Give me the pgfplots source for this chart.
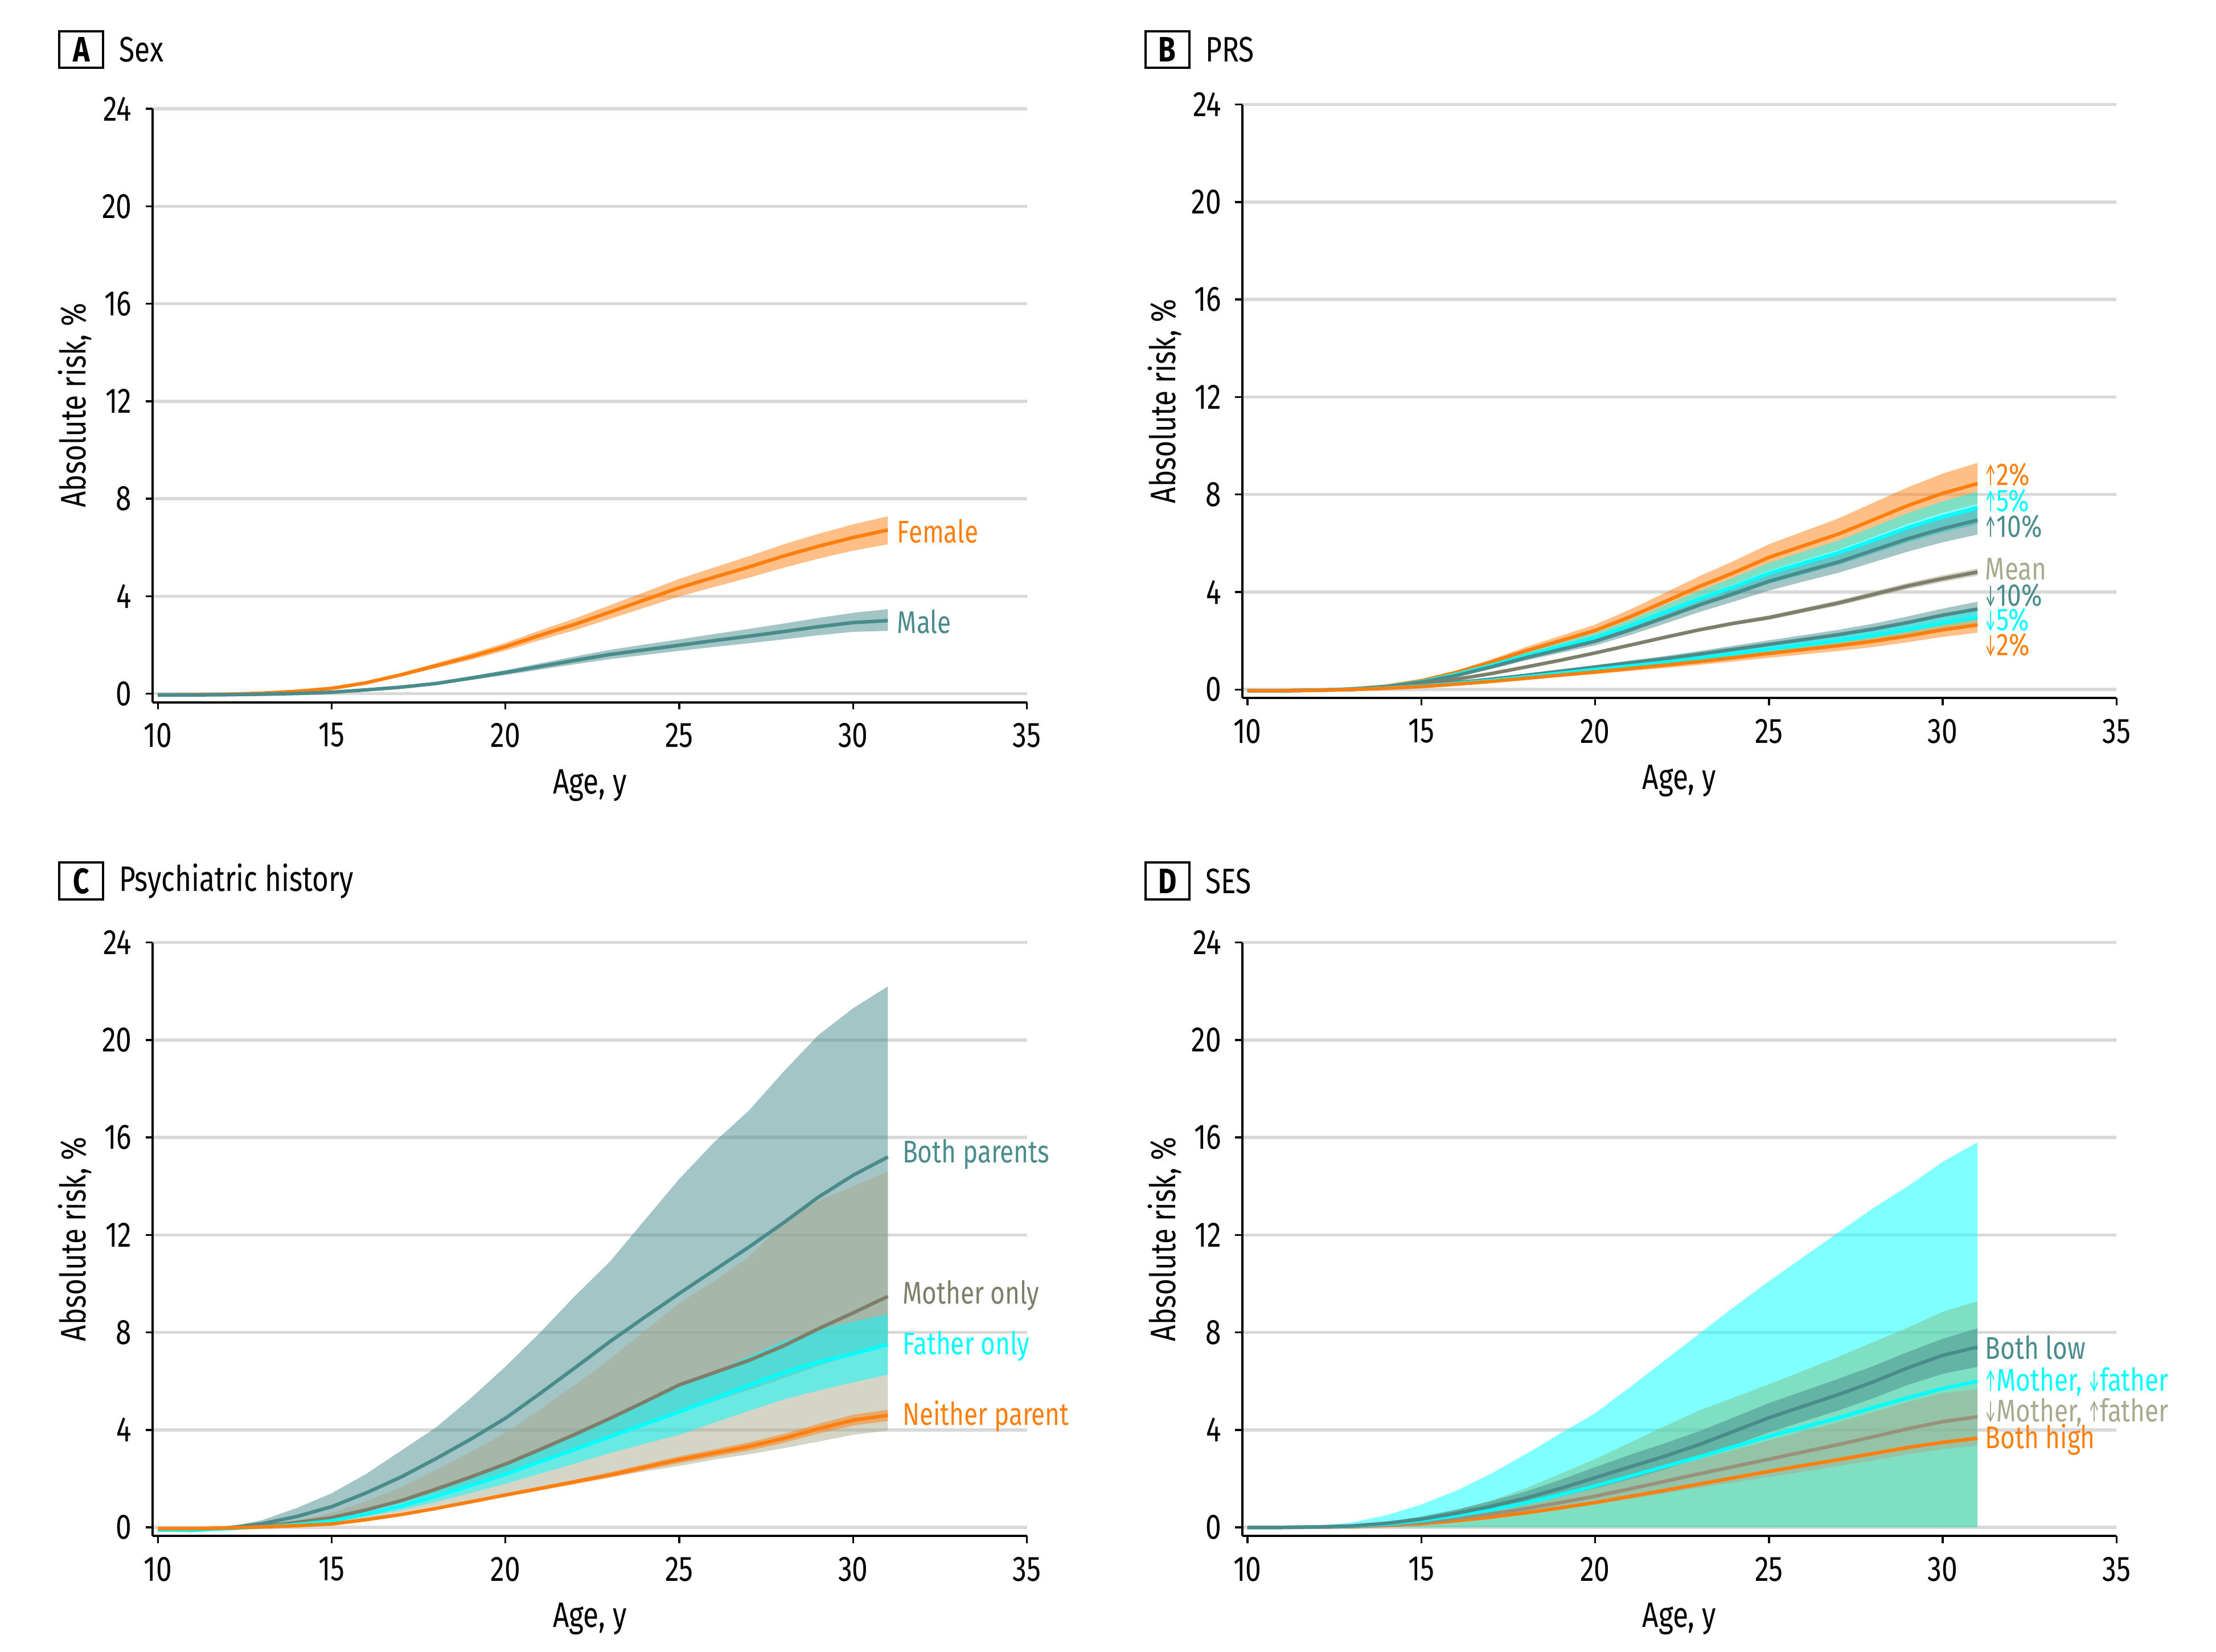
\documentclass[border=0pt]{standalone}
\usepackage{fontspec}
\setmainfont{Fira Sans}[FakeStretch=0.8]
\usepackage{graphicx}
\usepackage{pgfplots}
\usepackage{pgfplotstable}
\pgfplotsset{compat=1.18}
\usepgfplotslibrary{fillbetween}

\newcommand{\ua}{\scalebox{0.5}[1]{↑}}
\newcommand{\da}{\scalebox{0.5}[1]{↓}}

\definecolor{cor}{HTML}{FF7F0E}
\definecolor{cteal}{HTML}{4A8C8C}
\definecolor{ccyan}{HTML}{00FFFF}
\definecolor{ckhaki}{HTML}{A9A98F}
\definecolor{cdkhaki}{HTML}{7E7E6A}
\definecolor{cdline}{HTML}{9A917A}
\definecolor{gridgray}{HTML}{D9D9D9}

% ---- A: sex ----
\pgfplotstableread{
x y lo hi
10 -0.05 -0.06 -0.04
11 -0.04 -0.05 -0.03
12 -0.02 -0.03 -0.01
13 0.02 0.01 0.03
14 0.10 0.08 0.12
15 0.22 0.19 0.25
16 0.45 0.40 0.50
17 0.78 0.71 0.85
18 1.15 1.05 1.25
19 1.52 1.39 1.65
20 1.93 1.77 2.09
21 2.40 2.20 2.60
22 2.85 2.61 3.09
23 3.35 3.07 3.63
24 3.85 3.53 4.17
25 4.35 3.99 4.71
26 4.78 4.38 5.18
27 5.20 4.76 5.64
28 5.65 5.17 6.13
29 6.05 5.54 6.56
30 6.41 5.87 6.95
31 6.72 6.13 7.28
}\female
\pgfplotstableread{
x y lo hi
10 -0.05 -0.06 -0.04
11 -0.05 -0.06 -0.04
12 -0.04 -0.05 -0.03
13 -0.02 -0.03 -0.01
14 0.01 -0.01 0.03
15 0.06 0.04 0.08
16 0.16 0.13 0.19
17 0.27 0.23 0.31
18 0.42 0.36 0.48
19 0.64 0.56 0.72
20 0.87 0.77 0.97
21 1.12 0.99 1.25
22 1.37 1.21 1.53
23 1.61 1.42 1.80
24 1.80 1.59 2.02
25 1.99 1.76 2.23
26 2.18 1.92 2.45
27 2.36 2.07 2.66
28 2.55 2.23 2.88
29 2.75 2.40 3.11
30 2.92 2.54 3.32
31 3.00 2.58 3.47
}\male

% ---- B: PRS ----
\pgfplotstableread{
x y lo hi
10 -0.05 -0.06 -0.04
11 -0.05 -0.06 -0.04
12 -0.03 -0.04 -0.02
13 0.02 0.01 0.03
14 0.14 0.13 0.15
15 0.36 0.32 0.40
16 0.70 0.63 0.77
17 1.12 1.01 1.23
18 1.58 1.42 1.74
19 2.00 1.80 2.20
20 2.42 2.18 2.66
21 2.98 2.68 3.28
22 3.60 3.24 3.96
23 4.23 3.81 4.65
24 4.80 4.32 5.28
25 5.42 4.88 5.96
26 5.90 5.31 6.49
27 6.38 5.74 7.02
28 6.96 6.26 7.66
29 7.55 6.80 8.30
30 8.05 7.25 8.86
31 8.45 7.61 9.30
}\uptwo
\pgfplotstableread{
x y lo hi
10 -0.05 -0.06 -0.04
11 -0.05 -0.06 -0.04
12 -0.03 -0.04 -0.02
13 0.02 0.02 0.02
14 0.12 0.11 0.13
15 0.32 0.29 0.35
16 0.62 0.56 0.68
17 0.99 0.90 1.08
18 1.39 1.26 1.52
19 1.76 1.60 1.92
20 2.13 1.94 2.32
21 2.62 2.38 2.86
22 3.17 2.88 3.46
23 3.72 3.39 4.05
24 4.22 3.84 4.60
25 4.77 4.34 5.20
26 5.19 4.72 5.66
27 5.61 5.11 6.11
28 6.12 5.57 6.67
29 6.64 6.04 7.24
30 7.08 6.44 7.72
31 7.45 6.78 8.12
}\upfive
\pgfplotstableread{
x y lo hi
10 -0.05 -0.06 -0.04
11 -0.05 -0.06 -0.04
12 -0.03 -0.04 -0.02
13 0.02 0.02 0.02
14 0.11 0.10 0.12
15 0.30 0.27 0.33
16 0.57 0.52 0.62
17 0.92 0.84 1.00
18 1.30 1.19 1.41
19 1.64 1.50 1.78
20 1.98 1.81 2.15
21 2.44 2.23 2.65
22 2.95 2.70 3.20
23 3.47 3.18 3.76
24 3.94 3.61 4.27
25 4.44 4.06 4.82
26 4.84 4.43 5.25
27 5.23 4.79 5.67
28 5.71 5.22 6.20
29 6.19 5.66 6.72
30 6.60 6.04 7.16
31 6.95 6.36 7.54
}\upten
\pgfplotstableread{
x y lo hi
10 -0.05 -0.06 -0.04
11 -0.05 -0.06 -0.04
12 -0.03 -0.04 -0.02
13 0.00 0.00 0.01
14 0.08 0.07 0.09
15 0.22 0.21 0.23
16 0.42 0.41 0.43
17 0.65 0.63 0.67
18 0.92 0.89 0.95
19 1.20 1.16 1.24
20 1.50 1.45 1.55
21 1.82 1.76 1.88
22 2.14 2.08 2.20
23 2.45 2.38 2.52
24 2.72 2.64 2.80
25 2.95 2.86 3.04
26 3.25 3.15 3.35
27 3.55 3.44 3.66
28 3.90 3.78 4.02
29 4.25 4.12 4.38
30 4.55 4.41 4.69
31 4.82 4.67 4.97
}\prsmean
\pgfplotstableread{
x y lo hi
10 -0.05 -0.06 -0.04
11 -0.05 -0.06 -0.04
12 -0.03 -0.04 -0.02
13 0.00 0.00 0.01
14 0.07 0.06 0.08
15 0.16 0.15 0.17
16 0.28 0.25 0.31
17 0.42 0.38 0.46
18 0.58 0.53 0.63
19 0.75 0.68 0.82
20 0.92 0.84 1.00
21 1.09 0.99 1.19
22 1.26 1.15 1.37
23 1.45 1.32 1.58
24 1.65 1.50 1.80
25 1.85 1.68 2.02
26 2.05 1.87 2.23
27 2.25 2.05 2.45
28 2.48 2.26 2.70
29 2.75 2.50 3.00
30 3.05 2.78 3.32
31 3.30 3.00 3.60
}\downten
\pgfplotstableread{
x y lo hi
10 -0.05 -0.06 -0.04
11 -0.05 -0.06 -0.04
12 -0.03 -0.04 -0.02
13 0.00 0.00 0.01
14 0.06 0.05 0.07
15 0.14 0.13 0.15
16 0.25 0.23 0.27
17 0.37 0.34 0.40
18 0.52 0.47 0.57
19 0.67 0.61 0.73
20 0.82 0.75 0.89
21 0.97 0.88 1.06
22 1.12 1.02 1.22
23 1.29 1.17 1.41
24 1.47 1.34 1.60
25 1.65 1.50 1.80
26 1.82 1.66 1.98
27 2.00 1.82 2.18
28 2.21 2.01 2.41
29 2.45 2.23 2.67
30 2.72 2.48 2.96
31 2.95 2.68 3.22
}\downfive
\pgfplotstableread{
x y lo hi
10 -0.05 -0.06 -0.04
11 -0.05 -0.06 -0.04
12 -0.03 -0.04 -0.02
13 0.00 0.00 0.01
14 0.05 0.04 0.06
15 0.12 0.11 0.13
16 0.22 0.19 0.25
17 0.33 0.29 0.37
18 0.46 0.40 0.52
19 0.59 0.52 0.66
20 0.72 0.63 0.81
21 0.86 0.76 0.96
22 1.00 0.88 1.12
23 1.15 1.01 1.29
24 1.31 1.15 1.47
25 1.48 1.30 1.66
26 1.64 1.44 1.84
27 1.80 1.58 2.02
28 1.98 1.74 2.22
29 2.20 1.94 2.46
30 2.45 2.16 2.74
31 2.65 2.33 2.97
}\downtwo

% ---- C: psychiatric history ----
\pgfplotstableread{
x y lo hi
10 -0.10 -0.12 -0.08
11 -0.12 -0.16 -0.08
12 -0.02 -0.05 0.00
13 0.15 0.07 0.30
14 0.45 0.20 0.80
15 0.85 0.40 1.40
16 1.42 0.68 2.20
17 2.07 1.00 3.15
18 2.82 1.38 4.10
19 3.62 1.78 5.30
20 4.48 2.20 6.60
21 5.50 2.70 8.00
22 6.55 3.20 9.50
23 7.62 3.72 10.90
24 8.62 4.22 12.60
25 9.60 4.70 14.30
26 10.55 5.17 15.80
27 11.50 5.64 17.10
28 12.50 6.12 18.70
29 13.55 6.63 20.20
30 14.45 7.08 21.30
31 15.20 7.47 22.20
}\bothpar
\pgfplotstableread{
x y lo hi
10 -0.08 -0.09 -0.07
11 -0.08 -0.09 -0.07
12 -0.03 -0.04 -0.02
13 0.05 0.02 0.08
14 0.20 0.10 0.30
15 0.40 0.20 0.60
16 0.72 0.38 1.08
17 1.10 0.62 1.65
18 1.57 0.87 2.36
19 2.07 1.10 3.10
20 2.60 1.33 3.90
21 3.20 1.58 4.85
22 3.82 1.83 5.85
23 4.47 2.06 6.90
24 5.15 2.30 8.05
25 5.85 2.52 9.20
26 6.35 2.78 10.10
27 6.85 3.00 11.10
28 7.45 3.25 12.50
29 8.15 3.52 13.40
30 8.80 3.80 14.00
31 9.48 3.97 14.60
}\motheronly
\pgfplotstableread{
x y lo hi
10 -0.10 -0.11 -0.09
11 -0.12 -0.13 -0.11
12 -0.05 -0.06 -0.04
13 0.02 0.01 0.03
14 0.12 0.10 0.15
15 0.27 0.22 0.33
16 0.55 0.45 0.66
17 0.88 0.72 1.06
18 1.28 1.05 1.54
19 1.72 1.41 2.07
20 2.18 1.79 2.62
21 2.70 2.21 3.25
22 3.20 2.62 3.86
23 3.72 3.05 4.49
24 4.23 3.43 5.12
25 4.74 3.80 5.76
26 5.28 4.30 6.38
27 5.83 4.78 7.02
28 6.35 5.25 7.65
29 6.78 5.62 8.14
30 7.12 5.95 8.45
31 7.50 6.27 8.74
}\fatheronly
\pgfplotstableread{
x y lo hi
10 -0.05 -0.06 -0.04
11 -0.05 -0.06 -0.04
12 -0.02 -0.03 -0.01
13 0.02 0.01 0.03
14 0.07 0.06 0.08
15 0.14 0.13 0.15
16 0.32 0.30 0.34
17 0.53 0.50 0.56
18 0.78 0.74 0.82
19 1.05 1.00 1.10
20 1.33 1.26 1.40
21 1.60 1.52 1.68
22 1.87 1.78 1.96
23 2.15 2.04 2.26
24 2.47 2.35 2.59
25 2.78 2.64 2.92
26 3.05 2.90 3.20
27 3.32 3.15 3.49
28 3.65 3.47 3.83
29 4.05 3.85 4.25
30 4.40 4.18 4.62
31 4.60 4.37 4.83
}\neither

% ---- D: SES ----
\pgfplotstableread{
x y lo hi
10 0.00 0.00 0.00
11 0.00 0.00 0.01
12 0.02 0.01 0.03
13 0.06 0.04 0.08
14 0.17 0.10 0.22
15 0.34 0.20 0.45
16 0.58 0.43 0.73
17 0.86 0.67 1.07
18 1.20 0.94 1.47
19 1.60 1.27 1.95
20 2.04 1.60 2.47
21 2.48 1.98 2.98
22 2.92 2.38 3.45
23 3.40 2.85 3.95
24 3.95 3.38 4.52
25 4.50 3.90 5.10
26 4.98 4.35 5.60
27 5.45 4.80 6.10
28 5.97 5.30 6.62
29 6.55 5.85 7.20
30 7.06 6.30 7.74
31 7.40 6.59 8.17
}\bothlow
\pgfplotstableread{
x y lo hi
10 0.00 0.00 0.00
11 0.00 0.00 0.02
12 0.02 0.00 0.06
13 0.05 0.00 0.20
14 0.14 0.00 0.50
15 0.28 0.00 0.94
16 0.48 0.00 1.50
17 0.72 0.00 2.20
18 1.00 0.00 3.00
19 1.34 0.00 3.85
20 1.70 0.00 4.68
21 2.10 0.00 5.75
22 2.50 0.00 6.85
23 2.90 0.00 7.95
24 3.32 0.00 9.05
25 3.74 0.00 10.10
26 4.12 0.00 11.10
27 4.50 0.00 12.10
28 4.92 0.00 13.10
29 5.32 0.00 14.00
30 5.70 0.00 15.00
31 6.00 0.00 15.80
}\mhighflow
\pgfplotstableread{
x y lo hi
10 0.00 0.00 0.00
11 0.00 0.00 0.01
12 0.01 0.00 0.02
13 0.04 0.03 0.05
14 0.10 0.07 0.13
15 0.20 0.15 0.25
16 0.36 0.27 0.46
17 0.55 0.41 0.70
18 0.77 0.57 0.98
19 1.02 0.75 1.30
20 1.28 0.95 1.63
21 1.58 1.17 2.01
22 1.89 1.40 2.40
23 2.20 1.63 2.79
24 2.50 1.85 3.18
25 2.80 2.07 3.56
26 3.10 2.29 3.94
27 3.40 2.52 4.32
28 3.72 2.75 4.72
29 4.05 3.00 5.14
30 4.34 3.21 5.51
31 4.54 3.36 5.67
}\mlowfhigh
\pgfplotstableread{
x y lo hi
10 0.00 0.00 0.00
11 0.00 0.00 0.01
12 0.01 0.00 0.02
13 0.03 0.00 0.06
14 0.08 0.00 0.20
15 0.15 0.00 0.40
16 0.27 0.00 0.72
17 0.42 0.00 1.10
18 0.60 0.00 1.60
19 0.80 0.00 2.20
20 1.02 0.00 2.80
21 1.27 0.00 3.48
22 1.52 0.00 4.15
23 1.78 0.00 4.80
24 2.04 0.00 5.33
25 2.30 0.00 5.87
26 2.54 0.00 6.43
27 2.78 0.00 7.00
28 3.03 0.00 7.60
29 3.28 0.00 8.20
30 3.49 0.00 8.85
31 3.66 0.00 9.28
}\bothhigh

% band: table, colour, path name
\newcommand{\band}[3]{%
  \addplot[name path=#3u, draw=none] table[x=x,y=hi]{#1};
  \addplot[name path=#3l, draw=none] table[x=x,y=lo]{#1};
  \addplot[fill=#2, fill opacity=0.5, draw=none] fill between[of=#3u and #3l];
}
\newcommand{\curve}[2]{%
  \addplot[#2, line width=0.9pt] table[x=x,y=y]{#1};
}

\pgfplotsset{
  riskaxis/.style={
    scale only axis,
    width=222.7pt, height=151.2pt,
    anchor=south west,
    xmin=9.85, xmax=35, ymin=-0.35, ymax=24,
    xtick={10,15,...,35}, ytick={0,4,...,24},
    axis x line*=bottom, axis y line*=left,
    axis line style={line width=0.6pt, -},
    tick align=outside, major tick length=1.8pt,
    tick style={black, line width=0.5pt},
    ymajorgrids, major grid style={gridgray, line width=0.8pt},
    /pgf/number format/assume math mode=true,
    tick label style={font=\fontsize{9}{10}\selectfont},
    label style={font=\fontsize{9}{10}\selectfont},
    xlabel={Age, y}, ylabel={Absolute risk, \%},
    xlabel style={at={(axis description cs:0.5,-0.14)}, anchor=center},
    ylabel style={at={(axis description cs:-0.089,0.5)}, anchor=center},
    clip=false,
  },
}
\tikzset{lab/.style={anchor=west, font=\fontsize{8}{9}\selectfont, inner sep=0pt}}

\begin{document}
\begin{tikzpicture}
\path (0,0) rectangle (564.48pt,-420.84pt);

% panel headers
\foreach \px/\py/\l/\t in {20.7pt/-12.6pt/A/Sex, 297.36pt/-12.6pt/B/PRS, 20.7pt/-224.46pt/C/Psychiatric history, 297.36pt/-224.46pt/D/SES}{
  \node[draw, line width=0.6pt, minimum width=11.16pt, minimum height=9.36pt, inner sep=0pt,
        font=\bfseries\fontsize{9}{10}\selectfont] at (\px,\py) {\l};
  \node[anchor=west, inner sep=0pt, font=\fontsize{9}{10}\selectfont] at ([xshift=9.5pt]\px,\py) {\t};
}

% A
\begin{axis}[riskaxis, at={(38.88pt,-178.92pt)}]
\band{\female}{cor}{fa}
\band{\male}{cteal}{ma}
\curve{\female}{cor}
\curve{\male}{cteal}
\node[lab, text=cor] at (axis cs:31.25,6.67) {Female};
\node[lab, text=cteal] at (axis cs:31.25,2.96) {Male};
\end{axis}

% B
\begin{axis}[riskaxis, at={(316.44pt,-177.84pt)}]
\band{\uptwo}{cor}{ua}
\band{\upfive}{ccyan}{ub}
\band{\upten}{cteal}{uc}
\band{\prsmean}{ckhaki}{md}
\band{\downten}{cteal}{dt}
\band{\downfive}{ccyan}{df}
\band{\downtwo}{cor}{dw}
\curve{\uptwo}{cor}
\curve{\upfive}{ccyan}
\curve{\upten}{cteal}
\curve{\prsmean}{cdkhaki}
\curve{\downten}{cteal}
\curve{\downfive}{ccyan}
\curve{\downtwo}{cor}
\node[lab, text=cor] at (axis cs:31.2,8.82) {\ua2\%};
\node[lab, text=ccyan] at (axis cs:31.2,7.75) {\ua5\%};
\node[lab, text=cteal] at (axis cs:31.2,6.68) {\ua10\%};
\node[lab, text=ckhaki] at (axis cs:31.2,4.94) {Mean};
\node[lab, text=cteal] at (axis cs:31.2,3.86) {\da10\%};
\node[lab, text=ccyan] at (axis cs:31.2,2.86) {\da5\%};
\node[lab, text=cor] at (axis cs:31.2,1.84) {\da2\%};
\end{axis}

% C
\begin{axis}[riskaxis, at={(38.88pt,-391.32pt)}]
\band{\bothpar}{cteal}{ba}
\band{\motheronly}{ckhaki}{mo}
\band{\fatheronly}{ccyan}{fo}
\band{\neither}{cor}{ne}
\curve{\bothpar}{cteal}
\curve{\motheronly}{cdkhaki}
\curve{\fatheronly}{ccyan}
\curve{\neither}{cor}
\node[lab, text=cteal] at (axis cs:31.4,15.3) {Both parents};
\node[lab, text=cdkhaki] at (axis cs:31.4,9.52) {Mother only};
\node[lab, text=ccyan] at (axis cs:31.4,7.44) {Father only};
\node[lab, text=cor] at (axis cs:31.4,4.56) {Neither parent};
\end{axis}

% D
\begin{axis}[riskaxis, at={(316.44pt,-391.32pt)}]
\band{\bothhigh}{cor}{bh}
\band{\mhighflow}{ccyan}{hl}
\curve{\bothhigh}{cor}
\band{\mlowfhigh}{ckhaki}{lh}
\curve{\mlowfhigh}{cdline}
\curve{\mhighflow}{ccyan}
\band{\bothlow}{cteal}{bl}
\curve{\bothlow}{cteal}
\node[lab, text=cteal] at (axis cs:31.2,7.39) {Both low};
\node[lab, text=ccyan] at (axis cs:31.2,5.97) {\ua Mother, \da father};
\node[lab, text=ckhaki] at (axis cs:31.2,4.72) {\da Mother, \ua father};
\node[lab, text=cor] at (axis cs:31.2,3.60) {Both high};
\end{axis}
\end{tikzpicture}
\end{document}
